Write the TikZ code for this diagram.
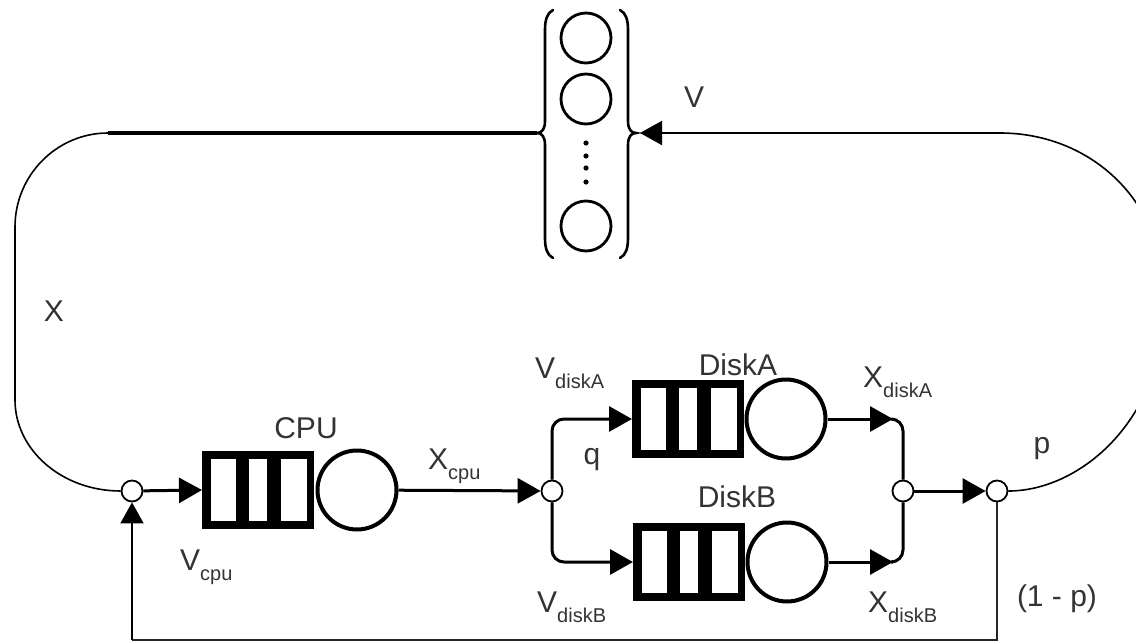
\documentclass[tikz,border=0pt]{standalone}
\usepackage{fontspec}
\setmainfont{Liberation Sans}
\usetikzlibrary{arrows.meta,calc}
\newcommand{\sbs}[1]{\raisebox{-10pt}{\fontsize{20}{20}\selectfont #1}}
\begin{document}
\begin{tikzpicture}[x=1pt,y=-1pt,
  lbl/.style={inner sep=0pt, text=black!80, font=\fontsize{30}{36}\selectfont},
  jn/.style={circle, draw, fill=white, line width=1.8pt, minimum size=21pt, inner sep=0pt},
  queue/.style={rectangle, fill=black, minimum width=112pt, minimum height=78pt, inner sep=0pt, outer sep=0pt,
    path picture={
      \foreach \a/\b in {9/34,47/65,79/105}{
        \fill[white] ($(path picture bounding box.north west)+(\a,8)$) rectangle ($(path picture bounding box.north west)+(\b,70)$);
      }
    }},
  server/.style={circle, draw, line width=4pt, minimum size=79pt, inner sep=0pt},
  term/.style={circle, draw, line width=2.8pt, minimum size=50pt, inner sep=0pt},
  conn/.style={line width=3pt},
  thinline/.style={line width=1.6pt},
  bracestyle/.style={line width=2.6pt, line cap=round},
  tip/.style={-{Triangle[length=23pt,width=25pt]}},
]
\useasboundingbox (0,0) rectangle (1136,643);

% terminals
\node[term] (t1) at (586,38) {};
\node[term] (t2) at (586,99) {};
\node[term] (t3) at (586,226) {};
\foreach \yy in {143,156,168,182} \fill (586,\yy) circle (2.6pt);
\draw[bracestyle] (553,10) .. controls (547,13) and (545,20) .. (545,30) -- (545,121)
  .. controls (545,129) and (542,133) .. (537,133) .. controls (542,133) and (545,137) .. (545,145)
  -- (545,238) .. controls (545,248) and (547,255) .. (553,258);
\draw[bracestyle] (620,10) .. controls (626,13) and (628,20) .. (628,30) -- (628,121)
  .. controls (628,129) and (631,133) .. (636,133) .. controls (631,133) and (628,137) .. (628,145)
  -- (628,238) .. controls (628,248) and (626,255) .. (620,258);
\coordinate (lb) at (537,133);
\coordinate (rbt) at (640,133);
\coordinate (tl) at (108,133);
\coordinate (tr) at (1000,133);

% junctions
\node[jn] (J1) at (132,491) {};
\node[jn] (J2) at (552,491) {};
\node[jn] (J3) at (903,491) {};
\node[jn] (J4) at (997,491) {};

% stations
\node[queue] (cpuq) at (258,490) {};
\node[server] (cpus) at (357,490) {};
\node[queue] (dAq) at (688,419) {};
\node[server] (dAs) at (786,419) {};
\node[queue] (dBq) at (689,562) {};
\node[server] (dBs) at (787,562) {};

\coordinate (a3) at (893,419);
\coordinate (b3) at (893,562);
\coordinate (fb) at (132,640);

% connectors
\draw[conn, tip] (J1) -- (cpuq.west);
\draw[conn, tip] (cpus) -- (J2);
\draw[conn, tip, rounded corners=12pt] (J2.north) |- (dAq.west);
\draw[conn, tip, rounded corners=12pt] (J2.south) |- (dBq.west);
\draw[conn, tip] (dAs) -- (a3);
\draw[conn, tip] (dBs) -- (b3);
\draw[conn, rounded corners=12pt] (a3) -| (J3.north);
\draw[conn, rounded corners=12pt] (b3) -| (J3.south);
\draw[conn, tip] (J3) -- (J4);
\draw[line width=2pt, black!85] (J4.south) |- (fb);
\draw[line width=2pt, -{Triangle[length=21pt,width=23pt]}] (fb) -- (J1.south);

% outer loop
\draw[line width=3.5pt] (lb) -- (tl);
\draw[thinline] (tl) .. controls (57,133) and (15,175) .. (15,227) -- (15,400)
  .. controls (15,450) and (62,491) .. (J1.west);
\draw[line width=2pt, {Triangle[length=22pt,width=24pt]}-] (rbt) -- (tr);
\begin{scope}
\clip (0,0) rectangle (1136,643);
\draw[thinline] (tr) .. controls (1090,133) and (1165,200) .. (1165,300)
  .. controls (1165,420) and (1080,491) .. (J4.east);
\end{scope}

% labels
\node[lbl, anchor=base west] (vcpu) at (180,570) {V\sbs{cpu}};
\node[lbl, anchor=base west] (xcpu) at (428,469) {X\sbs{cpu}};
\node[lbl, anchor=base west] (vdA) at (535,378) {V\sbs{diskA}};
\node[lbl, anchor=base west] (xdA) at (863,387) {X\sbs{diskA}};
\node[lbl, anchor=base west] (vdB) at (537,612) {V\sbs{diskB}};
\node[lbl, anchor=base west] (xdB) at (868,612) {X\sbs{diskB}};
\node[lbl, anchor=base] (cpul) at (306,438) {CPU};
\node[lbl, anchor=base] (dAl) at (738,375) {DiskA};
\node[lbl, anchor=base] (dBl) at (737,507) {DiskB};
\node[lbl, anchor=base] (xl) at (54,321) {X};
\node[lbl, anchor=base] (vl) at (694,107) {V};
\node[lbl, anchor=base] (ql) at (592,464) {q};
\node[lbl, anchor=base] (pl) at (1042,453) {p};
\node[lbl, anchor=base] (opl) at (1057,606) {(1 - p)};
\end{tikzpicture}
\end{document}
